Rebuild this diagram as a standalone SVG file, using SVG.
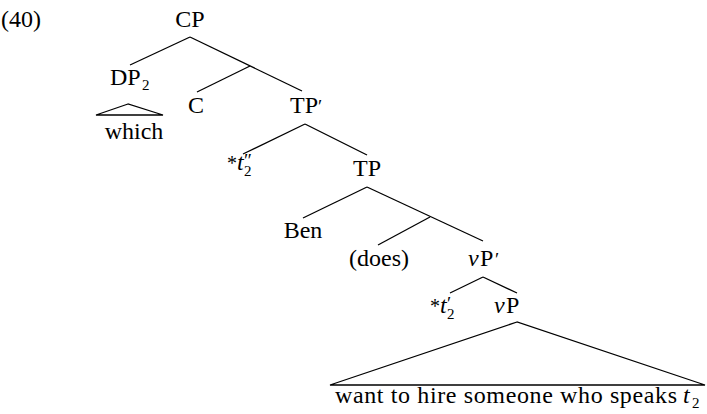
<svg xmlns="http://www.w3.org/2000/svg" width="707" height="414" viewBox="0 0 707 414">
<style>
text{font-family:"Liberation Serif","Times New Roman",serif;font-size:24px;fill:#000}
.m{text-anchor:middle}
.i{font-style:italic}
.sub{font-size:15px}
.sup{font-size:19px}
.ast{font-size:20px}
#edges line,#edges polygon{stroke:#000;stroke-width:1.3;fill:none}
</style>
<rect width="707" height="414" fill="#fff"/>
<text x="1" y="27">(40)</text>
<g id="edges">
<line x1="190" y1="37" x2="130" y2="65"/>
<line x1="190" y1="37" x2="302" y2="91"/>
<line x1="250" y1="66" x2="197" y2="92"/>
<polygon points="128,104 96,115 163,115"/>
<line x1="305" y1="124" x2="243" y2="154"/>
<line x1="305" y1="124" x2="367" y2="155"/>
<line x1="367" y1="187" x2="303" y2="218"/>
<line x1="367" y1="187" x2="483" y2="241"/>
<line x1="430" y1="217" x2="378" y2="245"/>
<line x1="483" y1="277" x2="450" y2="293"/>
<line x1="483" y1="277" x2="517" y2="293"/>
<polygon points="517,322 330,385 705,385"/>
</g>
<g id="CP"><text class="m" x="190" y="27">CP</text></g>
<g id="DP2"><text x="110" y="85">DP<tspan class="sub" x="142" y="90">2</tspan></text></g>
<g id="which"><text class="m" x="134" y="139">which</text></g>
<g id="C"><text class="m" x="196" y="113">C</text></g>
<g id="TPbar"><text x="290" y="113">TP<tspan x="318" y="113" font-size="19">′</tspan></text></g>
<g id="t2pp"><text x="227" y="170"><tspan class="ast" x="227" y="170">*</tspan><tspan class="i" x="237" y="170">t</tspan><tspan class="sup" x="244" y="167">″</tspan><tspan class="sub" x="244" y="176">2</tspan></text></g>
<g id="TP"><text class="m" x="367" y="176">TP</text></g>
<g id="Ben"><text class="m" x="303" y="238">Ben</text></g>
<g id="does"><text class="m" x="379" y="266">(does)</text></g>
<g id="vPbar"><text x="468" y="266"><tspan class="i">v</tspan><tspan x="480" y="266">P</tspan><tspan x="495" y="266" font-size="19">′</tspan></text></g>
<g id="t2p"><text x="431" y="313"><tspan class="ast" x="430" y="313">*</tspan><tspan class="i" x="440" y="313">t</tspan><tspan class="sup" x="447" y="310">′</tspan><tspan class="sub" x="447" y="319">2</tspan></text></g>
<g id="vP"><text x="494" y="313"><tspan class="i">v</tspan><tspan x="506" y="313">P</tspan></text></g>
<g id="yield"><text x="335" y="403"><tspan textLength="342" lengthAdjust="spacing">want to hire someone who speaks</tspan><tspan class="i" x="683" y="403">t</tspan><tspan class="sub" x="692" y="408">2</tspan></text></g>
</svg>
